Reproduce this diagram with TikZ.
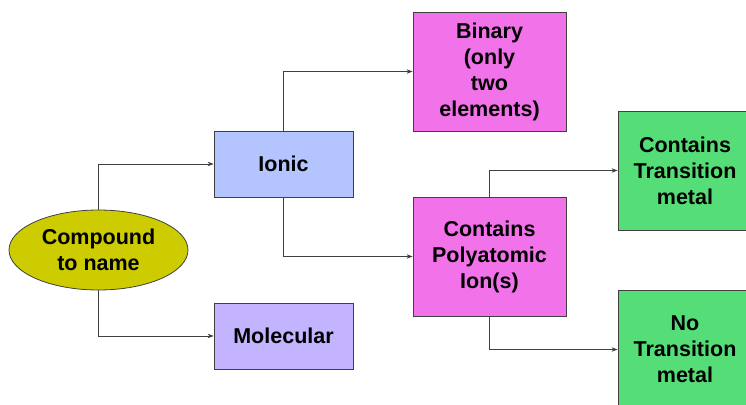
\documentclass[tikz,border=0pt]{standalone}
\usepackage{fontspec}
\setmainfont{Liberation Sans}
\usetikzlibrary{arrows.meta,shapes.geometric}
\definecolor{olive}{HTML}{CCCC00}
\definecolor{ionblue}{HTML}{B4C4FF}
\definecolor{molpurple}{HTML}{C4B4FF}
\definecolor{magent}{HTML}{F272EA}
\definecolor{greenbox}{HTML}{55DE77}
\tikzset{
  box/.style={draw=black!75, line width=0.8pt, inner sep=0pt, align=center,
    font=\fontsize{21.5}{26}\selectfont\bfseries},
  conn/.style={draw=black!75, line width=0.8pt, -{Stealth[length=6pt,width=4.5pt]}}
}
\begin{document}
\begin{tikzpicture}[x=1pt,y=-1pt]
\useasboundingbox (0,0) rectangle (746,404);
\clip (0,0) rectangle (746,404);
\node[box, ellipse, fill=olive, minimum width=179pt, minimum height=80pt] (comp) at (98.5,250) {Compound\\to name};
\node[box, fill=ionblue, minimum width=139pt, minimum height=66pt] (ionic) at (283.5,164) {Ionic};
\node[box, fill=molpurple, minimum width=139pt, minimum height=66pt] (mol) at (283.5,336) {Molecular};
\node[box, fill=magent, minimum width=153pt, minimum height=119pt] (bin) at (489.5,71.5) {Binary\\(only\\two\\elements)};
\node[box, fill=magent, minimum width=153pt, minimum height=119pt] (poly) at (489.5,256.5) {Contains\\Polyatomic\\Ion(s)};
\node[box, fill=greenbox, minimum width=134pt, minimum height=119pt] (ctm) at (685,170.5) {Contains\\Transition\\metal};
\node[box, fill=greenbox, minimum width=134pt, minimum height=119pt] (ntm) at (685,349.5) {No\\Transition\\metal};
\draw[conn] (comp.north) |- (ionic.west);
\draw[conn] (comp.south) |- (mol.west);
\draw[conn] (ionic.north) |- (bin.west);
\draw[conn] (ionic.south) |- (poly.west);
\draw[conn] (poly.north) |- (ctm.west);
\draw[conn] (poly.south) |- (ntm.west);
\end{tikzpicture}
\end{document}
